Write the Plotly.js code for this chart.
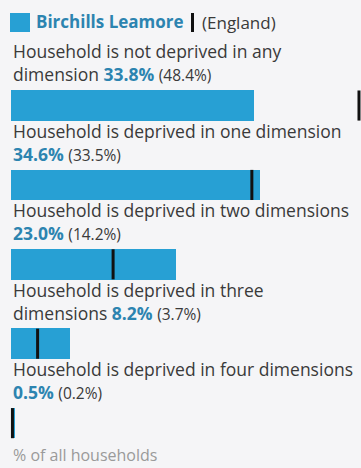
<!DOCTYPE html>
<html>
<head>
<meta charset="utf-8">
<script src="https://cdn.plot.ly/plotly-3.0.1.min.js"></script>
<style>
html,body{margin:0;padding:0;background:#f5f5f7;}
#chart{width:361px;height:468px;}
</style>
</head>
<body>
<div id="chart"></div>
<script>
const categories = [
  "Household is not deprived in any\ndimension",
  "Household is deprived in one dimension\n",
  "Household is deprived in two dimensions\n",
  "Household is deprived in three\ndimensions",
  "Household is deprived in four dimensions\n"
];
const areaValues = [33.8, 34.6, 23.0, 8.2, 0.5];
const englandValues = [48.4, 33.5, 14.2, 3.7, 0.2];
const areaName = "Birchills Leamore";
const compName = "England";
const axisTitle = "% of all households";

const BAR = "#27a0d4";
const BLUE_TXT = "#2c84b0";
const TXT = "#3a3a3a";
const pos = categories.map((_, i) => i);

const traces = [
  {
    type: "bar", orientation: "h",
    x: areaValues, y: pos, width: 0.385,
    marker: {color: BAR}, hoverinfo: "skip", showlegend: false
  },
  {
    type: "scatter", mode: "markers",
    x: englandValues, y: pos,
    marker: {symbol: "line-ns", size: 21.5, line: {width: 3, color: "#111"}},
    cliponaxis: false, hoverinfo: "skip", showlegend: false
  }
];

const annotations = categories.map((c, i) => ({
  xref: "paper", yref: "y", x: 0, y: i - 0.19,
  xanchor: "left", yanchor: "bottom", yshift: 2, align: "left",
  showarrow: false,
  text: c.replace("\n", "<br>") + (c.endsWith("\n") ? "" : " ") +
        "<span style='color:" + BLUE_TXT + "'><b>" + areaValues[i].toFixed(1) + "%</b></span> " +
        "<span style='font-size:15.5px'>(" + englandValues[i].toFixed(1) + "%)</span>",
  font: {family: "Open Sans", size: 17.5, color: TXT}
}));

annotations.push({
  xref: "paper", yref: "paper", x: 0, y: 0, xanchor: "left", yanchor: "bottom",
  yshift: 0, showarrow: false, text: axisTitle,
  font: {family: "Open Sans", size: 16, color: "#9a9a9a"}
});
// legend
annotations.push({
  xref: "paper", yref: "paper", x: 0, y: 1, xanchor: "left", yanchor: "top",
  xshift: 23, yshift: -8, showarrow: false,
  text: "<b>" + areaName + "</b>",
  font: {family: "Open Sans", size: 17, color: BLUE_TXT}
});
annotations.push({
  xref: "paper", yref: "paper", x: 0, y: 1, xanchor: "left", yanchor: "top",
  xshift: 189, yshift: -9, showarrow: false,
  text: "(" + compName + ")",
  font: {family: "Open Sans", size: 17, color: TXT}
});

const shapes = [
  {type: "rect", xref: "paper", yref: "paper", x0: -1/350, x1: 19/350, y0: 1 - 13/468, y1: 1 - 32/468,
   fillcolor: BAR, line: {width: 0}},
  {type: "rect", xref: "paper", yref: "paper", x0: 180/350, x1: 183/350, y0: 1 - 13/468, y1: 1 - 32/468,
   fillcolor: "#111", line: {width: 0}}
];

const layout = {
  width: 361, height: 468,
  margin: {l: 11, r: 0, t: 0, b: 0},
  paper_bgcolor: "#f5f5f7", plot_bgcolor: "#f5f5f7",
  xaxis: {range: [0, 48.68], visible: false, fixedrange: true},
  yaxis: {range: [4.565, -1.329], visible: false, fixedrange: true},
  bargap: 0, showlegend: false,
  annotations: annotations, shapes: shapes
};

Plotly.newPlot("chart", traces, layout, {displayModeBar: false, staticPlot: true});
</script>
</body>
</html>
